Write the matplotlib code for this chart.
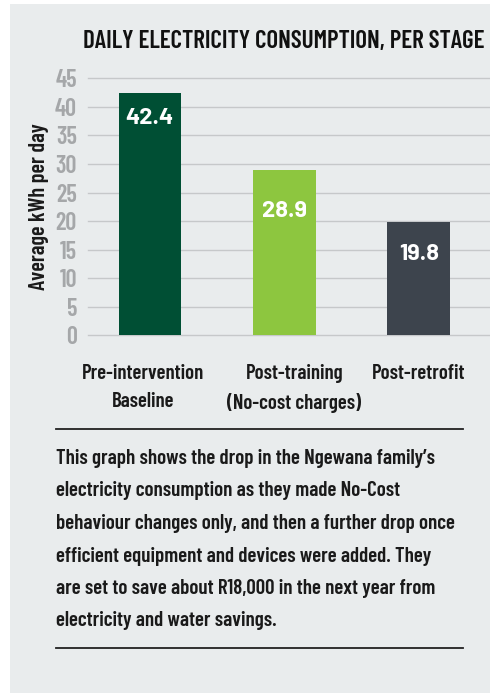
import matplotlib
matplotlib.use("Agg")
import matplotlib.pyplot as plt
from matplotlib.patches import Rectangle
from matplotlib.lines import Line2D
import matplotlib.transforms as mtransforms

categories = ["Pre-intervention\nBaseline", "Post-training\n(No-cost charges)", "Post-retrofit"]
values = [42.4, 28.9, 19.8]
value_labels = ["42.4", "28.9", "19.8"]
yticks = [0, 5, 10, 15, 20, 25, 30, 35, 40, 45]
title = "DAILY ELECTRICITY CONSUMPTION, PER STAGE"
ylabel = "Average kWh per day"
caption = ("This graph shows the drop in the Ngewana family\u2019s\n"
           "electricity consumption as they made No-Cost\n"
           "behaviour changes only, and then a further drop once\n"
           "efficient equipment and devices were added. They\n"
           "are set to save about R18,000 in the next year from\n"
           "electricity and water savings.")

colors = ["#004f34", "#8dc63f", "#3d444d"]
label_offsets = [4.4, 7.2, 5.5]      # data units below bar top for value labels
cat_shift = [-0.05, 0.075, 0.0]      # small horizontal shifts of category labels
COND = ["Barlow Condensed", "Roboto Condensed", "Liberation Sans Narrow", "DejaVu Sans"]
WIDE = ["Barlow", "Lato", "DejaVu Sans"]

W, H = 490, 693
fig = plt.figure(figsize=(W / 100, H / 100), dpi=100, facecolor="white")

# panel background
fig.patches.append(Rectangle((10 / W, 0), 1 - 10 / W, 1 - 4 / H, transform=fig.transFigure,
                             facecolor="#e9eced", edgecolor="none", zorder=-5))

ax = fig.add_axes([88 / W, (H - 335.5) / H, 1 - 88 / W, (335.5 - 78.3) / H])
ax.set_zorder(2)
ax.set_facecolor("none")
x = list(range(len(values)))
ax.bar(x, values, width=0.465, color=colors, zorder=3)
ax.set_xlim(-0.46, 2.53)
ax.set_ylim(0, 45)
ax.set_yticks(yticks)
for t in yticks:
    ax.axhline(t, color="#c6c8ca", lw=1.0, zorder=1, clip_on=False)
for s in ax.spines.values():
    s.set_visible(False)
ax.tick_params(axis="y", length=0, pad=8, labelsize=17.5, labelcolor="#a5a7a9")
ax.tick_params(axis="x", length=0, labelbottom=False)
for lab in ax.get_yticklabels():
    lab.set_fontfamily(COND)
    lab.set_fontweight("semibold")

for xi, v, lab, off in zip(x, values, value_labels, label_offsets):
    ax.text(xi, v - off, lab, ha="center", va="center", color="white",
            fontsize=17, fontweight="bold", family=WIDE, zorder=4)

# category labels
trans = mtransforms.blended_transform_factory(ax.transData, fig.transFigure)
for xi, c, sh in zip(x, categories, cat_shift):
    ax.text(xi + sh, 1 - 364 / H, c, ha="center", va="top", transform=trans,
            fontsize=15, fontweight="semibold", family=COND, color="#1a1a1a",
            linespacing=1.62)

# y label
fig.text(39 / W, 1 - 207 / H, ylabel, rotation=90, ha="center", va="center",
         fontsize=16, fontweight="semibold", family=COND, color="#1a1a1a")

# title
fig.text(83 / W, 1 - 41 / H, title, ha="left", va="center",
         fontsize=18, fontweight="semibold", family=COND, color="#111111")

# separator lines
for yy in (429, 648):
    fig.add_artist(Line2D([56 / W, 463 / W], [1 - yy / H, 1 - yy / H],
                          transform=fig.transFigure, color="#222222", lw=1.3))

# caption
fig.text(56 / W, 1 - 449 / H, caption, ha="left", va="top",
         fontsize=15.1, fontweight="semibold", family=COND, color="#1a1a1a",
         linespacing=1.9)

fig.savefig("out.png", dpi=100, facecolor="white")
